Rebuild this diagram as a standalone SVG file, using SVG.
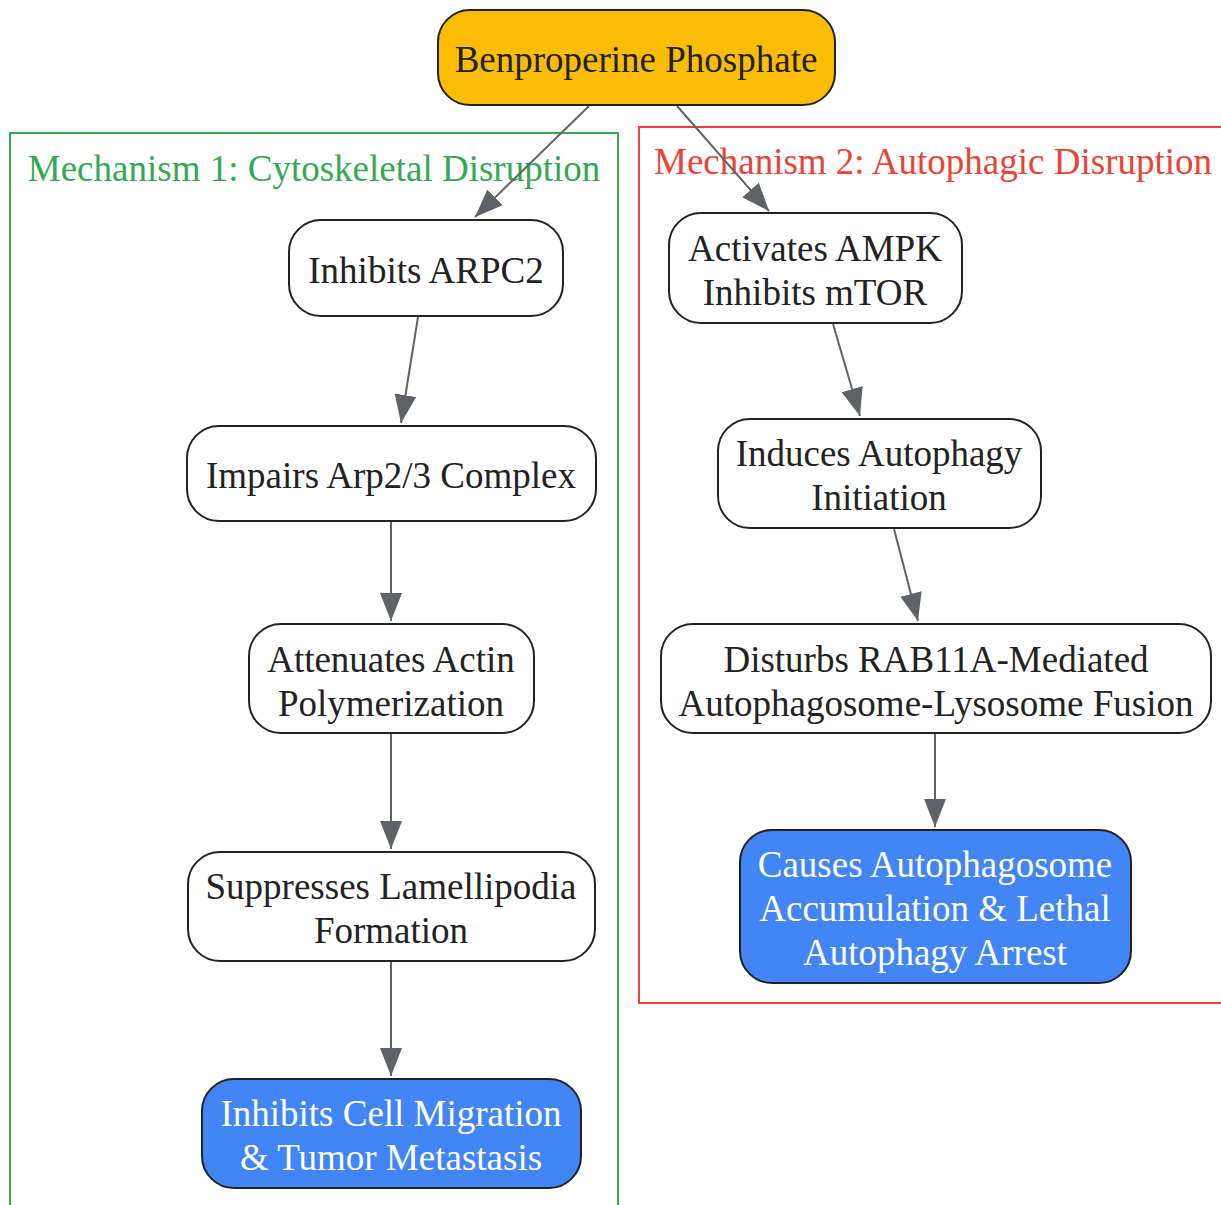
<svg xmlns="http://www.w3.org/2000/svg" width="1221" height="1205" viewBox="0 0 1221 1205">
<defs>
<style>
text{font-family:"Liberation Serif","Times New Roman",serif;font-size:37px;text-anchor:middle;fill:#222}
.node rect{fill:#fff;stroke:#222;stroke-width:2}
.start rect{fill:#FBBC05}
.end rect{fill:#4285F4}
.end text{fill:#fff}
.edge{stroke:#5F6368;stroke-width:2;fill:none;marker-end:url(#arr)}
.c1{fill:none;stroke:#34A853;stroke-width:2}
.c2{fill:none;stroke:#EA4335;stroke-width:2}
.t1{fill:#34A853}
.t2{fill:#EA4335;text-anchor:start}
</style>
<marker id="arr" markerUnits="userSpaceOnUse" markerWidth="30" markerHeight="24" refX="28" refY="11" orient="auto">
<path d="M0,0 L28,11 L0,22 z" fill="#5F6368"/>
</marker>
</defs>
<rect width="1221" height="1205" fill="#fff"/>
<g id="cluster1">
<rect class="c1" x="10" y="133" width="608" height="1090"/>
<text class="t1" x="314" y="181">Mechanism 1: Cytoskeletal Disruption</text>
</g>
<g id="cluster2">
<rect class="c2" x="639" y="127" width="600" height="876"/>
<text class="t2" x="654" y="174">Mechanism 2: Autophagic Disruption</text>
</g>
<g id="edges">
<path class="edge" d="M589,106 L475,217"/>
<path class="edge" d="M677,106 L769,211"/>
<path class="edge" d="M418,317 L401,423"/>
<path class="edge" d="M391,522 L391,621"/>
<path class="edge" d="M391,734 L391,849"/>
<path class="edge" d="M391,962 L391,1076"/>
<path class="edge" d="M833,324 L860,416"/>
<path class="edge" d="M894,529 L918,621"/>
<path class="edge" d="M935,734 L935,827"/>
</g>
<g id="n0" class="node start"><rect x="438" y="10" width="397" height="95" rx="32"/><text x="636" y="72">Benproperine Phosphate</text></g>
<g id="n1" class="node"><rect x="289" y="220" width="274" height="96" rx="32"/><text x="426" y="283">Inhibits ARPC2</text></g>
<g id="n2" class="node"><rect x="187" y="426" width="409" height="95" rx="32"/><text x="391" y="488">Impairs Arp2/3 Complex</text></g>
<g id="n3" class="node"><rect x="249" y="624" width="285" height="109" rx="32"/><text x="391" y="672">Attenuates Actin</text><text x="391" y="716">Polymerization</text></g>
<g id="n4" class="node"><rect x="188" y="852" width="407" height="109" rx="32"/><text x="391" y="899">Suppresses Lamellipodia</text><text x="391" y="943">Formation</text></g>
<g id="n5" class="node end"><rect x="202" y="1079" width="379" height="109" rx="32"/><text x="391" y="1126">Inhibits Cell Migration</text><text x="391" y="1170">&amp; Tumor Metastasis</text></g>
<g id="m1" class="node"><rect x="669" y="213" width="293" height="110" rx="32"/><text x="815" y="261">Activates AMPK</text><text x="815" y="305">Inhibits mTOR</text></g>
<g id="m2" class="node"><rect x="718" y="419" width="323" height="109" rx="32"/><text x="879" y="466">Induces Autophagy</text><text x="879" y="510">Initiation</text></g>
<g id="m3" class="node"><rect x="661" y="624" width="550" height="109" rx="32"/><text x="936" y="672">Disturbs RAB11A-Mediated</text><text x="936" y="716">Autophagosome-Lysosome Fusion</text></g>
<g id="m4" class="node end"><rect x="740" y="830" width="391" height="153" rx="32"/><text x="935" y="877">Causes Autophagosome</text><text x="935" y="921">Accumulation &amp; Lethal</text><text x="935" y="965">Autophagy Arrest</text></g>
</svg>
